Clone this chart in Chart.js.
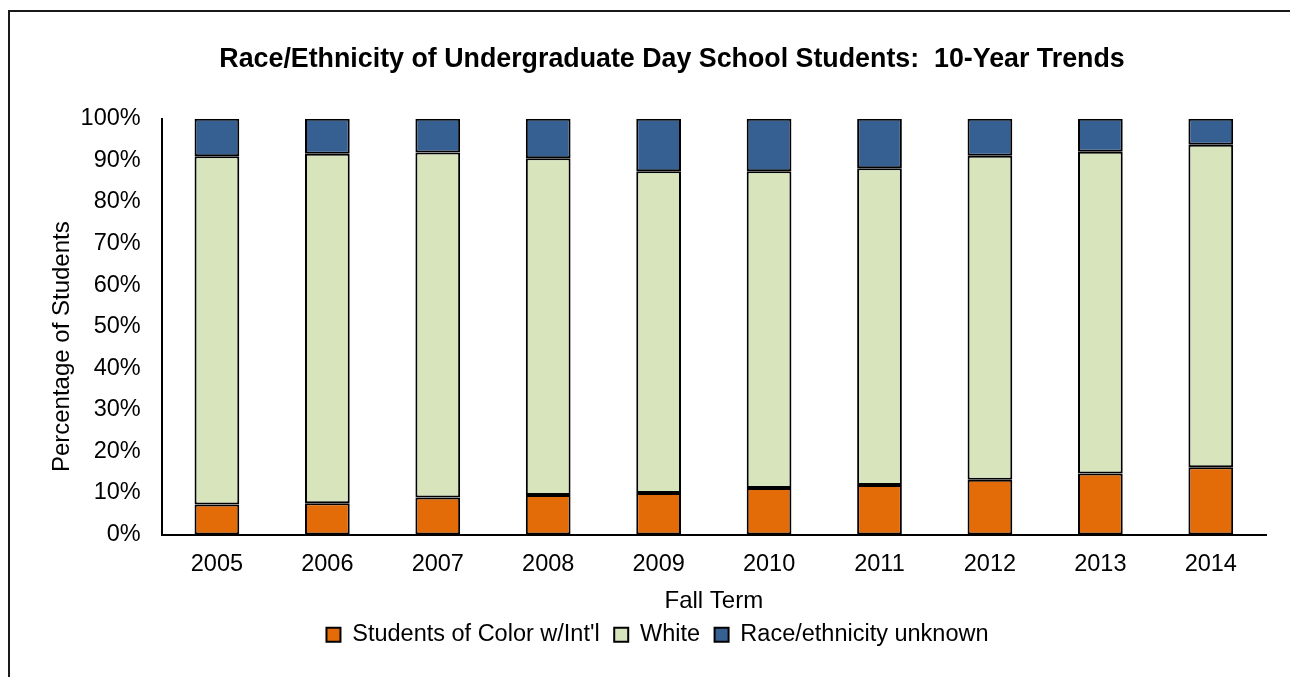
<!DOCTYPE html>
<html>
<head>
<meta charset="utf-8">
<script src="https://cdn.jsdelivr.net/npm/chart.js"></script>
<style>
    html, body { margin: 0; padding: 0; background: #fff; }
    canvas { display: block; }
</style>
</head>
<body>
<canvas id="myChart" width="1290" height="677"></canvas>
<script>
const years = ['2005', '2006', '2007', '2008', '2009', '2010', '2011', '2012', '2013', '2014']
const colorIntl = [7.2, 7.5, 8.9, 9.5, 10.0, 11.2, 11.9, 13.2, 14.7, 16.2]
const white = [83.8, 84.1, 83.0, 81.0, 77.4, 76.2, 76.2, 77.9, 77.4, 77.6]
const unknown = [9.0, 8.4, 8.1, 9.5, 12.6, 12.6, 11.9, 8.9, 7.9, 6.2]
const yTicks = [0, 10, 20, 30, 40, 50, 60, 70, 80, 90, 100]

const font = '"Liberation Sans", Arial, sans-serif'

// frame round the chart (only left and top edges are visible)
const framePlugin = {
    id: 'frame',
    beforeDraw(chart) {
        const ctx = chart.ctx
        ctx.save()
        ctx.fillStyle = '#fff'
        ctx.fillRect(0, 0, chart.width, chart.height)
        ctx.strokeStyle = '#1a1a1a'
        ctx.lineWidth = 2
        ctx.beginPath()
        ctx.moveTo(9, chart.height + 2)
        ctx.lineTo(9, 11)
        ctx.lineTo(chart.width + 2, 11)
        ctx.stroke()
        ctx.restore()
    }
}

// title and legend are centred a bit right of the canvas in the original
const shiftPlugin = {
    id: 'shift',
    afterLayout(chart) {
        chart.titleBlock.left += 39
        chart.titleBlock.right += 39
        chart.legend.left += 24.5
        chart.legend.right += 24.5
    }
}

function makeSet(label, data, color) {
    return {
        label: label,
        data: data,
        backgroundColor: color,
        borderColor: '#000',
        borderWidth: 2,
        borderSkipped: false,
        categoryPercentage: 1,
        barPercentage: 0.405
    }
}

const ctx = document.getElementById('myChart')
Chart.defaults.font.family = font
Chart.defaults.color = '#000'

new Chart(ctx, {
    type: 'bar',
    data: {
        labels: years,
        datasets: [
            makeSet("Students of Color w/Int'l", colorIntl, '#E36C09'),
            makeSet('White', white, '#D7E4BC'),
            makeSet('Race/ethnicity unknown', unknown, '#366092')
        ]
    },
    plugins: [framePlugin, shiftPlugin],
    options: {
        responsive: false,
        devicePixelRatio: 1,
        animation: false,
        layout: {
            padding: {left: 0, right: 24, top: 0, bottom: 20.5}
        },
        plugins: {
            title: {
                display: true,
                text: 'Race/Ethnicity of Undergraduate Day School Students:  10-Year Trends',
                font: {size: 26.8, weight: 'bold'},
                color: '#000',
                padding: {top: 44, bottom: 42.7}
            },
            legend: {
                position: 'bottom',
                labels: {
                    boxWidth: 14,
                    boxHeight: 14,
                    padding: 1.5,
                    font: {size: 23.5},
                    color: '#000',
                    generateLabels(chart) {
                        const items = Chart.defaults.plugins.legend.labels.generateLabels(chart)
                        // a little more room after each label, as in the original
                        items.forEach((item, i) => {
                            if (i < items.length - 1) item.text += '  '
                        })
                        return items
                    }
                }
            },
            tooltip: {enabled: false}
        },
        scales: {
            x: {
                stacked: true,
                afterFit(scale) {
                    scale.height = 87
                },
                grid: {display: false, drawTicks: false},
                border: {display: true, color: '#000', width: 2},
                ticks: {font: {size: 23.5}, color: '#000', padding: 16},
                title: {
                    display: true,
                    text: 'Fall Term',
                    font: {size: 24, lineHeight: 1},
                    color: '#000',
                    padding: {top: 0, bottom: 8.5}
                }
            },
            y: {
                stacked: true,
                min: 0,
                max: 100,
                afterFit(scale) {
                    scale.width = 161.7
                },
                afterBuildTicks(scale) {
                    scale.ticks = yTicks.map(v => ({value: v}))
                },
                grid: {display: false, drawTicks: false},
                border: {display: true, color: '#000', width: 2},
                ticks: {
                    font: {size: 23.5},
                    color: '#000',
                    padding: 21,
                    callback: v => v + '%'
                },
                title: {
                    display: true,
                    // trailing spaces push the rotated title down, as in the original
                    text: 'Percentage of Students      ',
                    font: {size: 24, lineHeight: 1},
                    color: '#000',
                    padding: {top: 50, bottom: 0}
                }
            }
        }
    }
})
</script>
</body>
</html>
